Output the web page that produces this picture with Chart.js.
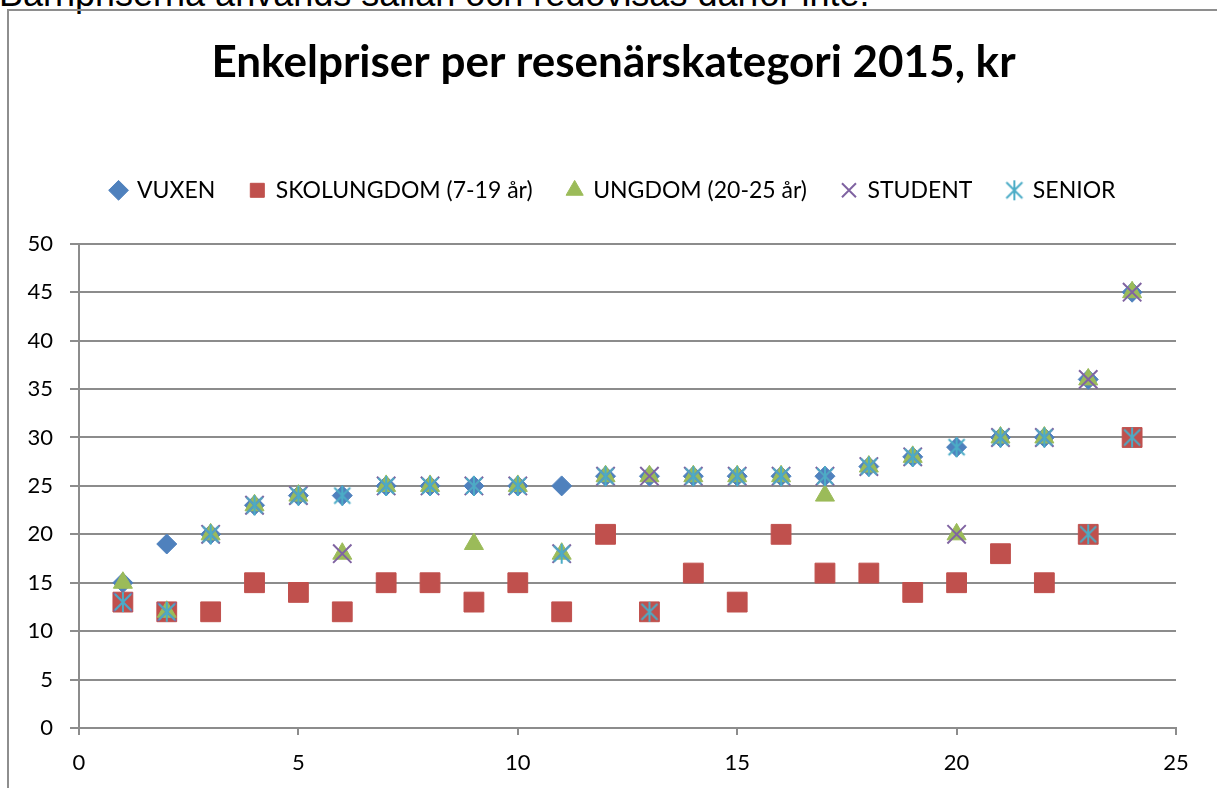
<!DOCTYPE html>
<html>
<head>
<meta charset="utf-8">
<script src="https://cdn.jsdelivr.net/npm/chart.js@4"></script>
<style>
  html, body { margin: 0; padding: 0; background: #fff; overflow: hidden; }
  body { width: 1217px; height: 788px; position: relative; }
  #note { position: absolute; left: -1px; top: -24px; font: 36px/1 "Liberation Sans", Arial, sans-serif; color: #000; white-space: nowrap; }
  #ram { position: absolute; left: 7px; top: 9px; width: 1240px; height: 800px; border-left: 2px solid #8e8e8e; border-top: 2px solid #8e8e8e; }
  #wrap { position: absolute; left: 10px; top: 12px; width: 1207px; height: 776px; }
</style>
</head>
<body>
<div id="note">Barnpriserna används sällan och redovisas därför inte.</div>
<div id="ram"></div>
<div id="wrap"><canvas id="graf"></canvas></div>
<script>
// Värden (x = 1..24)
const nr = [1, 2, 3, 4, 5, 6, 7, 8, 9, 10, 11, 12, 13, 14, 15, 16, 17, 18, 19, 20, 21, 22, 23, 24];
const vuxen = [15, 19, 20, 23, 24, 24, 25, 25, 25, 25, 25, 26, 26, 26, 26, 26, 26, 27, 28, 29, 30, 30, 36, 45];
const skolungdom = [13, 12, 12, 15, 14, 12, 15, 15, 13, 15, 12, 20, 12, 16, 13, 20, 16, 16, 14, 15, 18, 15, 20, 30];
const ungdom = [15, 12, 20, 23, 24, 18, 25, 25, 19, 25, 18, 26, 26, 26, 26, 26, 24, 27, 28, 20, 30, 30, 36, 45];
const student = [13, 12, 20, 23, 24, 18, 25, 25, 25, 25, 18, 26, 26, 26, 26, 26, 26, 27, 28, 20, 30, 30, 36, 45];
const senior = [13, 12, 20, 23, 24, 24, 25, 25, 25, 25, 18, 26, 12, 26, 26, 26, 26, 27, 28, 29, 30, 30, 20, 30];
const serieNamn = ['VUXEN', 'SKOLUNGDOM (7-19 år)', 'UNGDOM (20-25 år)', 'STUDENT', 'SENIOR'];
const yTicks = [0, 5, 10, 15, 20, 25, 30, 35, 40, 45, 50];

const punkter = (serie) => serie.map((v, i) => ({ x: nr[i], y: v }));

// Excel-stjärna: kryss + lodrät linje
const stjarna = document.createElement('canvas');
stjarna.width = 22;
stjarna.height = 22;
(function () {
    const c = stjarna.getContext('2d');
    c.strokeStyle = '#4BACC6';
    c.lineWidth = 2;
    c.beginPath();
    c.moveTo(3, 3); c.lineTo(19, 19);
    c.moveTo(19, 3); c.lineTo(3, 19);
    c.moveTo(11, 1); c.lineTo(11, 21);
    c.stroke();
})();

const grid = '#8c8c8c';
const typsnitt = 'Lato, "Open Sans", sans-serif';

// extra luft mellan förklaring och diagramyta
const legendLuft = {
    id: 'legendLuft',
    afterInit(chart) {
        const fit = chart.legend.fit;
        chart.legend.fit = function () {
            fit.call(this);
            this.height += 32;
        };
    }
};

new Chart(document.getElementById('graf').getContext('2d'), {
    type: 'scatter',
    data: {
        datasets: [{
            label: serieNamn[0],
            data: punkter(vuxen),
            pointStyle: 'rectRot',
            pointRadius: 10,
            backgroundColor: '#4F81BD',
            borderColor: '#4F81BD',
            borderWidth: 1,
            order: 4
        }, {
            label: serieNamn[1],
            data: punkter(skolungdom),
            pointStyle: 'rect',
            pointRadius: 14,
            backgroundColor: '#C0504D',
            borderColor: '#C0504D',
            borderWidth: 1,
            order: 3
        }, {
            label: serieNamn[2],
            data: punkter(ungdom),
            pointStyle: 'triangle',
            pointRadius: 11,
            backgroundColor: '#9BBB59',
            borderColor: '#9BBB59',
            borderWidth: 1,
            order: 2
        }, {
            label: serieNamn[3],
            data: punkter(student),
            pointStyle: 'crossRot',
            pointRadius: 13,
            backgroundColor: '#8064A2',
            borderColor: '#8064A2',
            borderWidth: 2,
            order: 1
        }, {
            label: serieNamn[4],
            data: punkter(senior),
            pointStyle: stjarna,
            backgroundColor: '#4BACC6',
            borderColor: '#4BACC6',
            borderWidth: 2,
            order: 0
        }]
    },
    options: {
        responsive: true,
        maintainAspectRatio: false,
        animation: false,
        layout: { padding: 0 },
        plugins: {
            title: {
                display: true,
                text: 'Enkelpriser per resenärskategori 2015, kr',
                color: '#000',
                font: { family: typsnitt, size: 44, weight: 'bold' },
                padding: { top: 24, bottom: 55 }
            },
            legend: {
                position: 'top',
                labels: {
                    usePointStyle: true,
                    boxWidth: 14,
                    boxHeight: 14,
                    padding: 35,
                    color: '#000',
                    font: { family: typsnitt, size: 23 },
                    sort: (a, b) => a.datasetIndex - b.datasetIndex
                }
            },
            tooltip: { enabled: false }
        },
        scales: {
            x: {
                type: 'linear',
                min: 0,
                max: 25,
                ticks: { stepSize: 5, padding: 15, color: '#000', font: { family: typsnitt, size: 22 } },
                grid: { drawOnChartArea: false, drawTicks: true, tickLength: 7, color: grid, lineWidth: 2 },
                border: { display: true, color: grid, width: 2 },
                afterFit: (scale) => {
                    scale.height = 60;
                    scale.paddingRight = 41;
                }
            },
            y: {
                min: 0,
                max: 50,
                afterBuildTicks: (scale) => { scale.ticks = yTicks.map(v => ({ value: v })); },
                ticks: { padding: 17, color: '#000', font: { family: typsnitt, size: 22 } },
                grid: { tickLength: 9, color: grid, lineWidth: 2 },
                border: { display: true, color: grid, width: 2 },
                afterFit: (scale) => { scale.width = 69; }
            }
        }
    },
    plugins: [legendLuft]
});
</script>
</body>
</html>
